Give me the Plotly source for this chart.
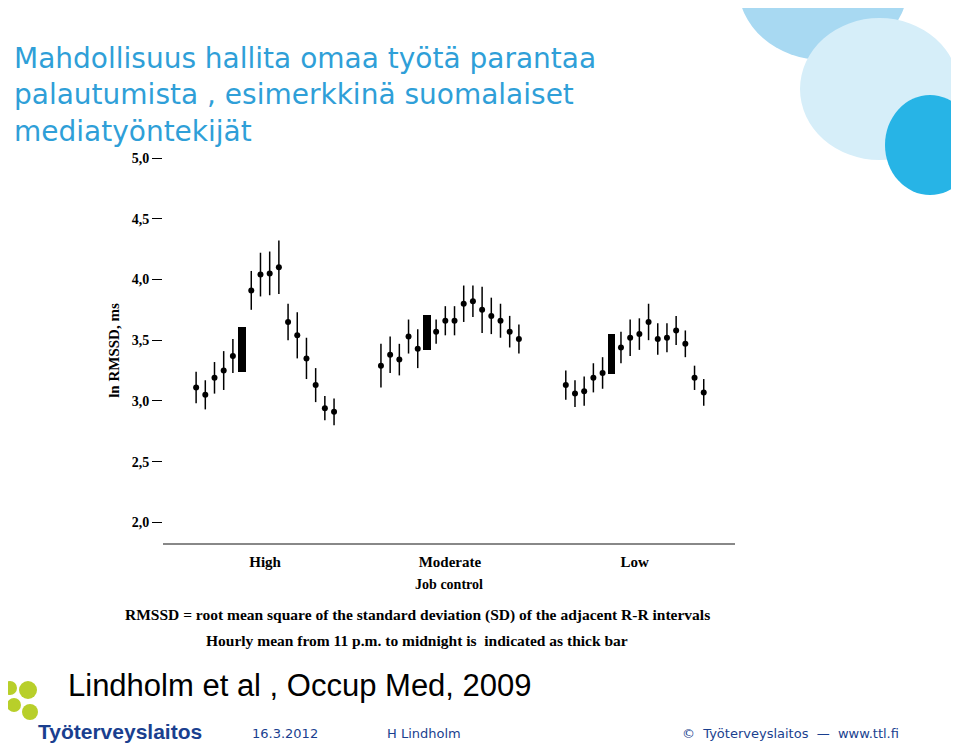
import plotly.graph_objects as go

groups = ["High", "Moderate", "Low"]
# hourly means (None at the thick-bar slot), per group, 16 slots
high = [3.11, 3.05, 3.19, 3.25, 3.37, None, 3.91, 4.04, 4.05, 4.10, 3.65, 3.54, 3.35, 3.13, 2.94, 2.91]
high_sd = [0.13, 0.12, 0.13, 0.16, 0.14, 0, 0.16, 0.18, 0.18, 0.22, 0.15, 0.19, 0.17, 0.14, 0.10, 0.11]
moderate = [3.29, 3.38, 3.34, 3.53, 3.43, None, 3.57, 3.66, 3.66, 3.80, 3.82, 3.75, 3.70, 3.66, 3.57, 3.51]
moderate_sd = [0.18, 0.15, 0.13, 0.14, 0.16, 0, 0.10, 0.12, 0.12, 0.15, 0.13, 0.19, 0.15, 0.14, 0.13, 0.12]
low = [3.13, 3.06, 3.08, 3.19, 3.23, None, 3.44, 3.52, 3.55, 3.65, 3.51, 3.52, 3.58, 3.47, 3.19, 3.07]
low_sd = [0.12, 0.11, 0.12, 0.12, 0.13, 0, 0.13, 0.15, 0.13, 0.15, 0.13, 0.12, 0.12, 0.11, 0.10, 0.11]
bar_low = [3.24, 3.42, 3.22]
bar_high = [3.61, 3.71, 3.55]
bar_slot = 5

fig = go.Figure()
series = [high, moderate, low]
sds = [high_sd, moderate_sd, low_sd]
for g, (vals, sd) in enumerate(zip(series, sds)):
    xs = [g * 20.1 + h for h in range(16) if vals[h] is not None]
    ys = [v for v in vals if v is not None]
    es = [sd[h] for h in range(16) if vals[h] is not None]
    fig.add_trace(go.Scatter(x=xs, y=ys, mode="markers",
                             marker=dict(color="black", size=6),
                             error_y=dict(type="data", array=es, color="black", thickness=1.5, width=0),
                             showlegend=False))
fig.add_trace(go.Bar(x=[g * 20.1 + bar_slot for g in range(3)],
                     y=[b - a for a, b in zip(bar_low, bar_high)], base=bar_low,
                     marker=dict(color="black", line=dict(width=0)), width=0.8, showlegend=False))

fig.update_layout(
    width=959, height=745, paper_bgcolor="white", plot_bgcolor="white",
    margin=dict(l=155, r=232, t=150, b=210),
    font=dict(family="Liberation Serif", color="black"),
    xaxis=dict(range=[-3.6, 58.6], tickvals=[7.5, 27.6, 47.7], ticktext=["<b>%s</b>" % g for g in groups],
               showline=True, linecolor="#888", linewidth=2, ticks="", showgrid=False, zeroline=False,
               tickfont=dict(size=15, family="Liberation Serif"), ticklabelstandoff=4,
               title=dict(text="<b>Job control</b>", font=dict(size=14), standoff=10)),
    yaxis=dict(range=[1.83, 5.0], tickvals=[2, 2.5, 3, 3.5, 4, 4.5, 5],
               ticktext=["<b>%s</b>" % t for t in ["2,0", "2,5", "3,0", "3,5", "4,0", "4,5", "5,0"]],
               ticks="outside", ticklen=10, tickcolor="black", showline=False, showgrid=False, zeroline=False,
               tickfont=dict(size=14, family="Liberation Serif"),
               title=dict(text="<b>ln RMSSD, ms</b>", font=dict(size=15), standoff=8)),
    bargap=0,
)

def px2paper(xp, yp):
    return (xp - 163) / 572, (543 - yp) / 385

title = "Mahdollisuus hallita omaa työtä parantaa<br>palautumista , esimerkkinä suomalaiset<br>mediatyöntekijät"
fig.add_annotation(text=title, xref="paper", yref="paper", x=px2paper(12, 0)[0], y=px2paper(0, 40)[1],
                   xanchor="left", yanchor="top", showarrow=False, align="left",
                   font=dict(family="DejaVu Sans", size=28, color="#2f9fd8"))
fig.add_annotation(text="<b>RMSSD = root mean square of the standard deviation (SD) of the adjacent R-R intervals</b>",
                   xref="paper", yref="paper", x=px2paper(417, 0)[0], y=px2paper(0, 615)[1], xanchor="center", yanchor="middle",
                   showarrow=False, font=dict(size=15.5))
fig.add_annotation(text="<b>Hourly mean from 11 p.m. to midnight is  indicated as thick bar</b>",
                   xref="paper", yref="paper", x=px2paper(417, 0)[0], y=px2paper(0, 640)[1], xanchor="center", yanchor="middle",
                   showarrow=False, font=dict(size=15.5))
fig.add_annotation(text="Lindholm et al , Occup Med, 2009", xref="paper", yref="paper",
                   x=px2paper(66, 0)[0], y=px2paper(0, 685)[1], xanchor="left", yanchor="middle", showarrow=False,
                   font=dict(family="Liberation Sans", size=31, color="black"))
for txt, xp in [("16.3.2012", 250), ("H Lindholm", 385), ("©  Työterveyslaitos  —  www.ttl.fi", 680)]:
    fig.add_annotation(text=txt, xref="paper", yref="paper", x=px2paper(xp, 0)[0], y=px2paper(0, 733)[1],
                       xanchor="left", yanchor="middle", showarrow=False,
                       font=dict(family="DejaVu Sans", size=13, color="#1a3f8f"))
fig.add_annotation(text="<b>Työterveyslaitos</b>", xref="paper", yref="paper", x=px2paper(36, 0)[0], y=px2paper(0, 731)[1],
                   xanchor="left", yanchor="middle", showarrow=False,
                   font=dict(family="Liberation Sans Narrow, Liberation Sans", size=21, color="#1a3f8f"))

for (x0, y0, x1, y1, col) in [(738, -90, 908, 60, "#a8d9f2"), (800, 18, 959, 160, "#d6eef9"), (885, 95, 975, 195, "#27b4e6")]:
    a, b = px2paper(x0, y1); c, d = px2paper(x1, y0)
    fig.add_shape(type="circle", xref="paper", yref="paper", x0=a, y0=b, x1=c, y1=d,
                  fillcolor=col, line=dict(width=0), layer="below")
for (cx, cy, r) in [(10, 688, 7), (28, 690, 9), (14, 705, 7), (30, 712, 8)]:
    a, b = px2paper(cx - r, cy + r); c, d = px2paper(cx + r, cy - r)
    fig.add_shape(type="circle", xref="paper", yref="paper", x0=a, y0=b, x1=c, y1=d,
                  fillcolor="#b8cf2a", line=dict(width=0))

fig.write_html("out.html")
